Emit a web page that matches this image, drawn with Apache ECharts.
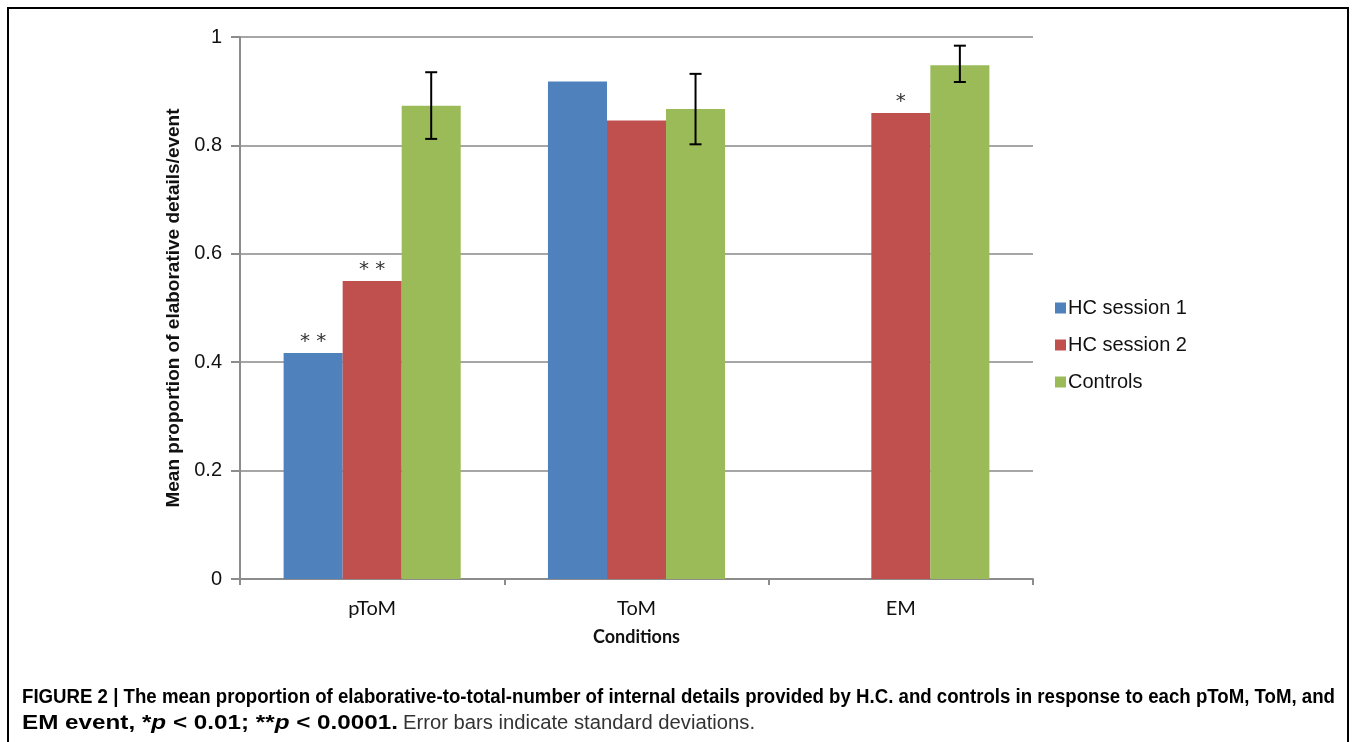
<!DOCTYPE html>
<html>
<head>
<meta charset="utf-8">
<script src="https://cdn.jsdelivr.net/npm/echarts@6/dist/echarts.min.js"></script>
<style>
html,body{margin:0;padding:0;background:#fff;}
#chart{width:1356px;height:742px;}
</style>
</head>
<body>
<div id="chart"></div>
<script>
const categories = ['pToM', 'ToM', 'EM'];
const seriesNames = ['HC session 1', 'HC session 2', 'Controls'];
const hcSession1 = [0.417, 0.918, null];
const hcSession2 = [0.550, 0.846, 0.860];
const controls = [0.873, 0.867, 0.948];
const controlsErrLow = [0.812, 0.802, 0.917];
const controlsErrHigh = [0.935, 0.932, 0.984];
const sigSession1 = ['**', '', ''];
const sigSession2 = ['**', '', '*'];
const captionLine1 = 'FIGURE 2 | The mean proportion of elaborative-to-total-number of internal details provided by H.C. and controls in response to each pToM, ToM, and';
const captionLine2 = ['EM event, *', 'p', ' < 0.01; **', 'p', ' < 0.0001.'];
const captionLine2Regular = 'Error bars indicate standard deviations.';

const colors = ['#4F81BD', '#C0504D', '#9BBB59'];
const catGap = 0.33;
const capFont = 'Liberation Sans';
const capSize = 20;

// horizontal squeeze to mimic the condensed caption face
const cv = document.createElement('canvas').getContext('2d');
function measure(txt, weight, style) {
  cv.font = (style || 'normal') + ' ' + (weight || 'normal') + ' ' + capSize + 'px "' + capFont + '"';
  return cv.measureText(txt).width;
}
const scale1 = 1313 / measure(captionLine1, 'bold');
const line2BoldW = captionLine2.reduce((s, t, i) => s + measure(t, 'bold', (i === 1 || i === 3) ? 'italic' : 'normal'), 0);
const scale2b = 376 / line2BoldW;
const scale2r = 352 / measure(captionLine2Regular, 'normal');

const chart = echarts.init(document.getElementById('chart'), null, {renderer: 'canvas'});

function sigLabel(arr) {
  return {
    show: true,
    position: 'top',
    distance: 1,
    fontFamily: 'DejaVu Sans',
    fontSize: 20,
    color: '#333',
    formatter: p => arr[p.dataIndex] ? arr[p.dataIndex].split('').join(' ') : ''
  };
}

const errData = categories.map((c, i) => [i, controlsErrLow[i], controlsErrHigh[i]]);
const capRich = {
  b: {fontFamily: capFont, fontWeight: 'bold', fontSize: capSize, fill: '#000'},
  bi: {fontFamily: capFont, fontWeight: 'bold', fontStyle: 'italic', fontSize: capSize, fill: '#000'},
  r: {fontFamily: capFont, fontSize: capSize, fill: '#333'}
};

const option = {
  animation: false,
  backgroundColor: '#fff',
  grid: {left: 240, right: 323, top: 37, bottom: 163},
  legend: {
    orient: 'vertical',
    left: 1050,
    top: 293,
    itemWidth: 11,
    itemHeight: 11,
    itemGap: 17,
    icon: 'rect',
    textStyle: {fontFamily: 'Liberation Sans', fontSize: 20, color: '#111', padding: [0, 0, 0, -3]},
    data: seriesNames
  },
  xAxis: {
    type: 'category',
    data: categories,
    name: 'Conditions',
    nameLocation: 'middle',
    nameGap: 49,
    nameTextStyle: {fontFamily: 'Lato', fontWeight: 'bold', fontSize: 18, color: '#111'},
    axisLine: {lineStyle: {color: '#8c8c8c', width: 2}},
    axisTick: {show: true, length: 6, lineStyle: {color: '#8c8c8c', width: 2}},
    axisLabel: {fontFamily: 'Lato', fontSize: 20, color: '#111', margin: 20}
  },
  yAxis: {
    type: 'value',
    min: 0,
    max: 1,
    interval: 0.2,
    name: 'Mean proportion of elaborative details/event',
    nameLocation: 'middle',
    nameGap: 54,
    nameTextStyle: {fontFamily: 'Liberation Sans', fontWeight: 'bold', fontSize: 19, color: '#111'},
    axisLine: {show: true, lineStyle: {color: '#8c8c8c', width: 2}},
    axisTick: {show: true, length: 9, lineStyle: {color: '#8c8c8c', width: 2}},
    axisLabel: {fontFamily: 'Liberation Sans', fontSize: 20, color: '#111', margin: 18},
    splitLine: {lineStyle: {color: '#a6a6a6', width: 2}}
  },
  series: [
    {name: seriesNames[0], type: 'bar', data: hcSession1, barGap: '0%', barCategoryGap: (catGap * 100) + '%',
      itemStyle: {color: colors[0]}, label: sigLabel(sigSession1)},
    {name: seriesNames[1], type: 'bar', data: hcSession2, barGap: '0%', barCategoryGap: (catGap * 100) + '%',
      itemStyle: {color: colors[1]}, label: sigLabel(sigSession2)},
    {name: seriesNames[2], type: 'bar', data: controls, barGap: '0%', barCategoryGap: (catGap * 100) + '%',
      itemStyle: {color: colors[2]}},
    {
      type: 'custom',
      name: 'err',
      data: errData,
      z: 10,
      renderItem: function (params, api) {
        const idx = api.value(0);
        const lo = api.coord([idx, api.value(1)]);
        const hi = api.coord([idx, api.value(2)]);
        const catW = api.size([1, 0])[0];
        const barW = catW * (1 - catGap) / 3;
        const x = lo[0] + barW;
        const cap = 6;
        const st = {stroke: '#000', lineWidth: 2};
        return {
          type: 'group',
          children: [
            {type: 'line', shape: {x1: x, y1: hi[1], x2: x, y2: lo[1]}, style: st},
            {type: 'line', shape: {x1: x - cap, y1: hi[1], x2: x + cap, y2: hi[1]}, style: st},
            {type: 'line', shape: {x1: x - cap, y1: lo[1], x2: x + cap, y2: lo[1]}, style: st}
          ]
        };
      }
    }
  ],
  graphic: [
    {type: 'rect', shape: {x: 8, y: 8, width: 1340, height: 760}, style: {fill: 'none', stroke: '#000', lineWidth: 2}, silent: true},
    {
      type: 'text', x: 22, y: 687, scaleX: scale1,
      style: {text: '{b|' + captionLine1 + '}', rich: capRich}
    },
    {
      type: 'text', x: 22, y: 713, scaleX: scale2b,
      style: {
        text: '{b|' + captionLine2[0] + '}{bi|' + captionLine2[1] + '}{b|' + captionLine2[2] + '}{bi|' + captionLine2[3] + '}{b|' + captionLine2[4] + '}',
        rich: capRich
      }
    },
    {
      type: 'text', x: 403, y: 713, scaleX: scale2r,
      style: {text: '{r|' + captionLine2Regular + '}', rich: capRich}
    }
  ]
};
chart.setOption(option);
</script>
</body>
</html>
